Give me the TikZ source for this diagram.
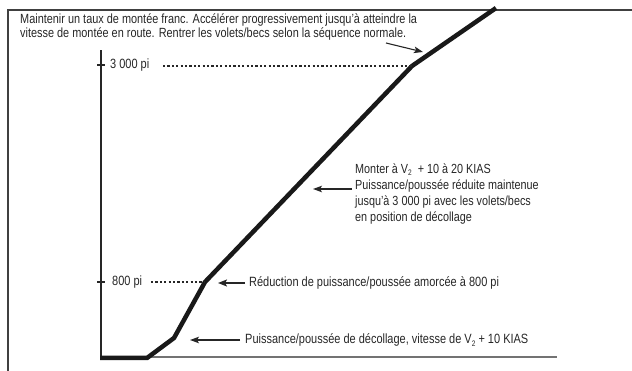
\documentclass[tikz,border=0pt]{standalone}
\usepackage{fontspec}
\setmainfont[FakeStretch=0.82]{Liberation Sans}
\usetikzlibrary{arrows.meta}
\tikzset{
  lbl/.style={anchor=west, inner sep=0pt, text=black!85, font=\fontsize{13.4}{16}\selectfont, align=left},
  climb/.style={line width=4.5pt, line join=miter, black!90},
  dots/.style={line width=1.4pt, dash pattern=on 2.2pt off 2.2pt, black!85},
  ptr/.style={line width=1.1pt, black!85, -{Stealth[length=9pt,width=6.5pt,inset=2pt]}},
  ptrthick/.style={line width=2pt, black!85, -{Stealth[length=9pt,width=7pt,inset=2pt]}},
  axis/.style={line width=1.2pt, black!85},
}
\newcommand{\Vdeux}{V\raisebox{-0.35ex}{\fontsize{8}{8}\selectfont 2}}
\begin{document}
\begin{tikzpicture}[x=1pt,y=-1pt]
\useasboundingbox (0,0) rectangle (632,371);
% frame
\draw[line width=1.8pt, black!75] (8,371) -- (8,10) -- (632,10);
% axes
\coordinate (o) at (101,357);
\coordinate (ytop) at (101,50);
\coordinate (xend) at (557,357);
\draw[axis] (o) -- (ytop);
\draw[line width=1.4pt, black!55] (o) -- (xend);
% ticks
\coordinate (t3a) at (97,65); \coordinate (t3b) at (105,65);
\coordinate (t8a) at (97,282); \coordinate (t8b) at (105,282);
\draw[axis] (t3a) -- (t3b);
\draw[axis] (t8a) -- (t8b);
% climb path
\coordinate (p0) at (100,358);
\coordinate (p1) at (147,358);
\coordinate (p2) at (174,338);
\coordinate (p3) at (205,282);
\coordinate (p4) at (412,66);
\coordinate (p5) at (496,8);
\draw[climb] (p0) -- (p1) -- (p2) -- (p3) -- (p4) -- (p5);
% altitude labels
\node[lbl] (l3000) at (110,65) {3 000 pi};
\node[lbl] (l800) at (112,282) {800 pi};
\coordinate (d3a) at (163,66);
\coordinate (d8a) at (151,282);
\draw[dots] (d3a) -- (p4);
\draw[dots] (d8a) -- (p3);
% top text
\node[lbl, font=\fontsize{13.3}{14.5}\selectfont] (top) at (20,27) {Maintenir un taux de montée franc. Accélérer progressivement jusqu’à atteindre la\\vitesse de montée en route. Rentrer les volets/becs selon la séquence normale.};
\coordinate (a1s) at (386,43);
\coordinate (a1e) at (423,52);
\draw[ptr] (a1s) -- (a1e);
% middle text
\node[lbl, font=\fontsize{13.2}{16.2}\selectfont] (mid) at (355,194) {Monter à \Vdeux\ \ + 10 à 20 KIAS\\Puissance/poussée réduite maintenue\\jusqu’à 3 000 pi avec les volets/becs\\en position de décollage};
\coordinate (a2s) at (352,189);
\coordinate (a2e) at (313,189);
\draw[ptr] (a2s) -- (a2e);
% 800 pi text
\node[lbl] (red) at (249,283) {Réduction de puissance/poussée amorcée à 800 pi};
\coordinate (a3s) at (245,283);
\coordinate (a3e) at (218,283);
\draw[ptrthick] (a3s) -- (a3e);
% takeoff text
\node[lbl] (to) at (245,340) {Puissance/poussée de décollage, vitesse de \Vdeux\ + 10 KIAS};
\coordinate (a4s) at (240,340);
\coordinate (a4e) at (190,340);
\draw[ptr] (a4s) -- (a4e);
\end{tikzpicture}
\end{document}
